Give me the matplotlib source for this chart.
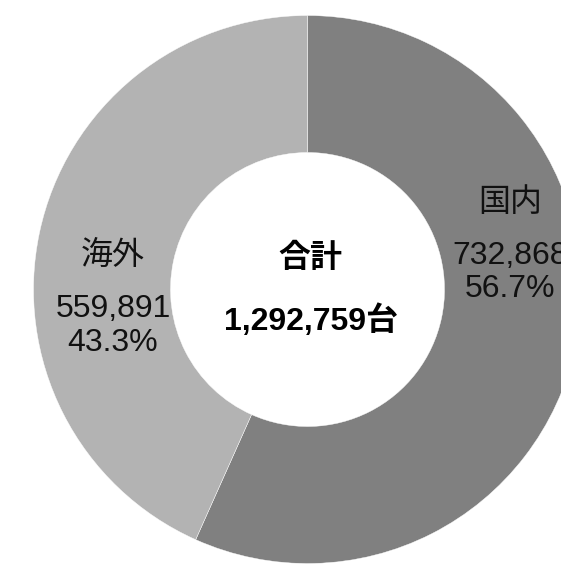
import matplotlib
matplotlib.use("Agg")
import matplotlib.pyplot as plt

categories = ["国内", "海外"]
values = [732868, 559891]
colors = ["#808080", "#b3b3b3"]
center_title = "合計"
unit = "台"

W, H = 561, 567
cx, cy = 307.5, 289.5   # pixel centre of donut
R = 274
ring = 137

plt.rcParams['font.family'] = ['Liberation Sans', 'Noto Sans CJK JP', 'DejaVu Sans']

fig = plt.figure(figsize=(W / 100, H / 100), dpi=100)
fig.patch.set_facecolor("white")
ax = fig.add_axes([0, 0, 1, 1])

ax.pie(values, colors=colors, startangle=90, counterclock=False, radius=R,
       wedgeprops=dict(width=ring, edgecolor="white", linewidth=0.3))
ax.set_xlim(-cx, W - cx)
ax.set_ylim(-(H - cy), cy)
ax.set_aspect('auto')
ax.axis('off')

def P(px, py):
    return px - cx, cy - py

total = sum(values)
pcts = [v / total * 100 for v in values]

label_pos = [(510, 203, 256, 289), (113, 256, 309, 343)]
fs = 23
for cat, v, p, (x, y1, y2, y3) in zip(categories, values, pcts, label_pos):
    ax.text(*P(x, y1), cat, ha='center', va='center', fontsize=fs, color='#111111')
    ax.text(*P(x, y2), f"{v:,}", ha='center', va='center', fontsize=fs, color='#111111')
    ax.text(*P(x, y3), f"{p:.1f}%", ha='center', va='center', fontsize=fs, color='#111111')

ax.text(*P(310, 259), center_title, ha='center', va='center', fontsize=fs,
        fontweight='bold', color='black')
ax.text(*P(310.5, 321), f"{total:,}{unit}", ha='center', va='center', fontsize=fs,
        fontweight='bold', color='black')

fig.savefig("out.png", dpi=100, facecolor="white")
